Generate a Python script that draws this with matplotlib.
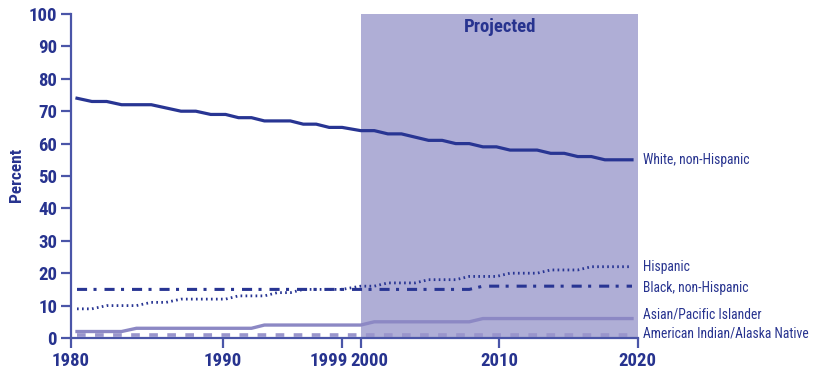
import numpy as np
import matplotlib
matplotlib.use("Agg")
import matplotlib.pyplot as plt
from matplotlib.transforms import ScaledTranslation

years = list(range(1980, 2021))
white = [74, 73, 73, 72, 72, 72, 71, 70, 70, 69, 69, 68, 68, 67, 67, 67, 66, 66, 65, 65,
         64, 64, 63, 63, 62, 61, 61, 60, 60, 59, 59, 58, 58, 58, 57, 57, 56, 56, 55, 55, 55]
hispanic = [9, 9, 10, 10, 10, 11, 11, 12, 12, 12, 12, 13, 13, 13, 14, 14, 15, 15, 15, 15,
            16, 16, 17, 17, 17, 18, 18, 18, 19, 19, 19, 20, 20, 20, 21, 21, 21, 22, 22, 22, 22]
black = [15] * 20 + [15] * 9 + [16] * 12
asian = [2, 2, 2, 2, 3, 3, 3, 3, 3, 3, 3, 3, 3, 4, 4, 4, 4, 4, 4, 4,
         4, 5, 5, 5, 5, 5, 5, 5, 5, 6, 6, 6, 6, 6, 6, 6, 6, 6, 6, 6, 6]
amind = [1] * 41

tick_years = [1980, 1990, 1999, 2000, 2010, 2020]
tick_pos = [0, 151.7, 270.7, 289.7, 428.3, 566.7]

navy = '#283593'
light = '#8c88c4'
txt = '#27338f'
axcol = '#4a55a8'
shade = '#afaed6'
fam = ['Roboto Condensed', 'DejaVu Sans']

def xpos(y):
    p = np.interp(y, tick_years, tick_pos)
    return 6 + p * (555 / 566.7)

x = xpos(np.array(years))

fig = plt.figure(figsize=(8.18, 3.83), dpi=100)
ax = fig.add_axes([71 / 818, 45 / 383, 566.7 / 818, 324 / 383])

ax.axvspan(tick_pos[3], tick_pos[5], color=shade, lw=0, zorder=0)

ax.plot(x, amind, color='#9995cc', lw=2.6, dashes=(2.4, 2.6))
ax.plot(x, asian, color=light, lw=2.4)
ax.plot(x, black, color=navy, lw=2.2, dashes=(3.3, 2.1, 1.0, 2.6))
ax.plot(x, hispanic, color=navy, lw=2.0, dashes=(0.6, 1.2))
ax.plot(x, white, color=navy, lw=2.3)

ax.set_xlim(0, 566.7)
ax.set_ylim(0, 100)
ax.set_xticks(tick_pos)
ax.set_xticklabels([str(t) for t in tick_years])
ax.set_yticks(range(0, 101, 10))

for s in ['top', 'right']:
    ax.spines[s].set_visible(False)
for s in ['left', 'bottom']:
    ax.spines[s].set_color(axcol)
    ax.spines[s].set_linewidth(1.6)

ax.tick_params(axis='both', colors=axcol, width=1.6, length=7, labelcolor=txt)
for lab in ax.get_xticklabels() + ax.get_yticklabels():
    lab.set_fontfamily(fam)
    lab.set_fontweight('bold')
    lab.set_fontsize(13.5)
ax.tick_params(axis='y', pad=3)
ax.tick_params(axis='x', pad=3)

# nudge the crowded 1999 / 2000 labels apart
xl = ax.get_xticklabels()
xl[2].set_transform(xl[2].get_transform() + ScaledTranslation(-0.13, 0, fig.dpi_scale_trans))
xl[3].set_transform(xl[3].get_transform() + ScaledTranslation(0.09, 0, fig.dpi_scale_trans))

ax.set_ylabel('Percent', color=txt, fontfamily=fam, fontweight='bold', fontsize=12.5)
ax.yaxis.set_label_coords(-0.083, 0.503)
ax.text(429, 96, 'Projected', color=txt, fontfamily=fam, fontweight='bold',
        fontsize=13.5, ha='center', va='center')

labels = ['White, non-Hispanic', 'Hispanic', 'Black, non-Hispanic',
          'Asian/Pacific Islander', 'American Indian/Alaska Native']
label_y = [54.9, 21.9, 15.4, 7.1, 1.5]
for lab, ly in zip(labels, label_y):
    ax.text(572, ly, lab, color=txt, fontfamily=fam, fontsize=9.8, va='center', ha='left',
            clip_on=False)

fig.savefig('out.png', dpi=100)
